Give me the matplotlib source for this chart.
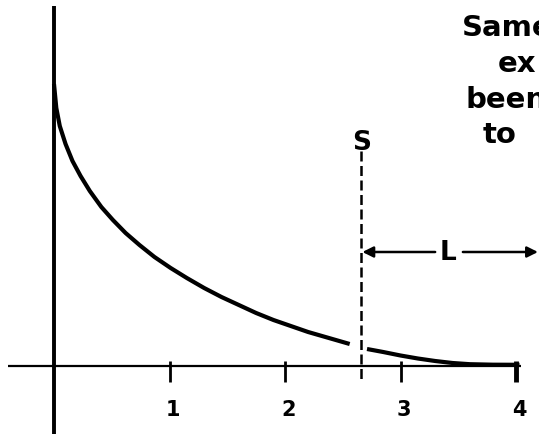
import matplotlib.pyplot as plt
import numpy as np

# curve (x in axis units, y in arbitrary height units)
curve_x = [0.0, 0.02, 0.05, 0.10, 0.16, 0.23, 0.31, 0.41, 0.51, 0.62, 0.74, 0.87, 1.01,
           1.15, 1.30, 1.45, 1.60, 1.75, 1.90, 2.05, 2.20, 2.35, 2.50, 2.56]
curve_y = [2.82, 2.58, 2.40, 2.22, 2.05, 1.90, 1.75, 1.59, 1.46, 1.33, 1.21, 1.09, 0.98,
           0.88, 0.78, 0.69, 0.61, 0.53, 0.46, 0.40, 0.34, 0.29, 0.24, 0.22]
tail_x = [2.71, 2.85, 3.00, 3.15, 3.30, 3.45, 3.60, 3.80, 4.03]
tail_y = [0.17, 0.14, 0.105, 0.075, 0.05, 0.03, 0.018, 0.013, 0.012]

tick_pos = [1, 2, 3, 4]
tick_labels = ['1', '2', '3', '4']
s_pos = 2.66
s_label = 'S'
l_label = 'L'
note_lines = ['Same', 'ex', 'been', 'to']

fig = plt.figure(figsize=(5.39, 4.35), dpi=100)
ax = fig.add_axes([0, 0, 1, 1])
ax.set_xlim(-0.4675, 4.199)
ax.set_ylim(-0.68, 3.67)
ax.axis('off')

# axes drawn by hand
ax.plot([-0.4, 4.04], [0, 0], color='black', lw=1.6, solid_capstyle='butt')
ax.plot([0, 0], [-0.68, 3.60], color='black', lw=2.8, solid_capstyle='butt')
for t in tick_pos:
    ax.plot([t, t], [0.05, -0.16], color='black', lw=2.0 if t < 4 else 3.5,
            solid_capstyle='butt')
    ax.text(t + 0.03, -0.43, tick_labels[t - 1], ha='center', va='center',
            fontsize=15, fontweight='bold')

# the curve, broken around the dashed line
ax.plot(curve_x, curve_y, color='black', lw=3.0, solid_capstyle='butt')
ax.plot(tail_x, tail_y, color='black', lw=3.0, solid_capstyle='butt')

# dashed cut-off line
ax.plot([s_pos, s_pos], [2.15, -0.14], color='black', lw=1.8, ls=(0, (4, 1.8)))
ax.text(s_pos, 2.24, s_label, ha='center', va='center', fontsize=19, fontweight='bold')

# L arrow
ax.annotate('', xy=(s_pos + 0.01, 1.14), xytext=(3.30, 1.14), annotation_clip=False,
            arrowprops=dict(arrowstyle='-|>', color='black', lw=1.8, mutation_scale=16,
                            shrinkA=0, shrinkB=0))
ax.annotate('', xy=(4.19, 1.14), xytext=(3.54, 1.14), annotation_clip=False,
            arrowprops=dict(arrowstyle='-|>', color='black', lw=1.8, mutation_scale=16,
                            shrinkA=0, shrinkB=0))
ax.text(3.41, 1.14, l_label, ha='center', va='center', fontsize=19, fontweight='bold')

# note in the top right corner, cut off by the edge as in the original
note_x = [3.53, 3.84, 3.56, 3.71]
note_y = [3.39, 3.03, 2.67, 2.32]
for s, x, y in zip(note_lines, note_x, note_y):
    ax.text(x, y, s, ha='left', va='center', fontsize=21, fontweight='bold')

fig.savefig('out.png', dpi=100)
